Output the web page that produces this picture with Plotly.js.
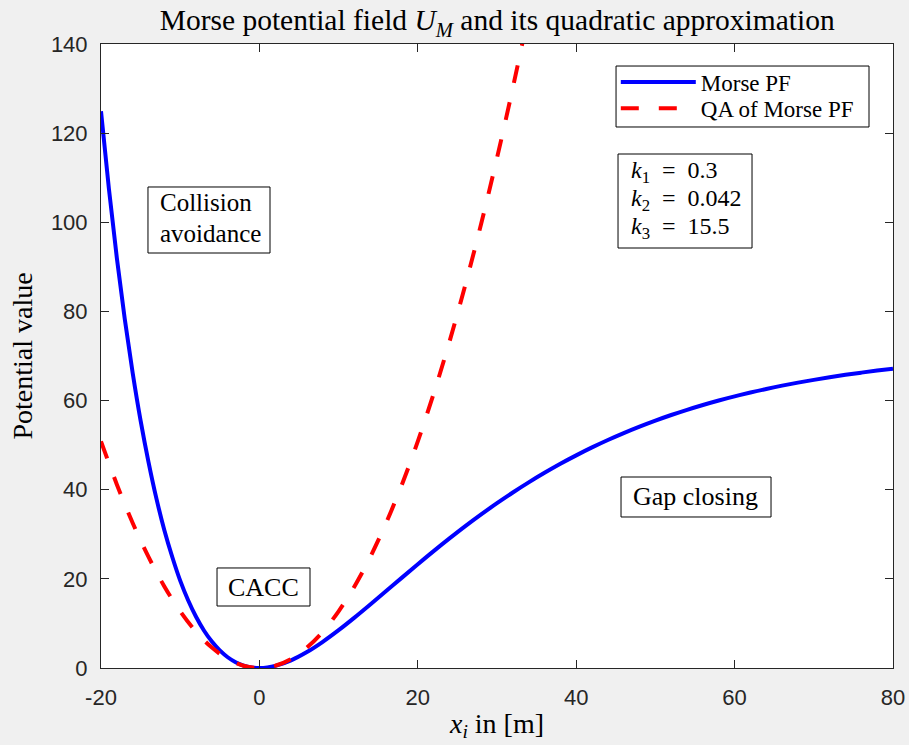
<!DOCTYPE html>
<html>
<head>
<meta charset="utf-8">
<script src="https://cdn.plot.ly/plotly-3.0.1.min.js"></script>
<style>html,body{margin:0;padding:0;background:#f0f0f0;}#chart{width:909px;height:745px;}</style>
</head>
<body>
<div id="chart"></div>
<script>
// Morse PF values
const morseX = [-20,-19,-18,-17,-16,-15,-14,-13,-12,-11,-10,-9,-8,-7,-6,-5,-4,-3,-2,-1,0,1,2,4,6,8,10,12,14,16,18,20,22,24,26,28,30,32,34,36,38,40,42,44,46,48,50,52,54,56,58,60,62,64,66,68,70,72,74,76,78,80];
const morseY = [124.9,107.5,92.0,78.3,66.2,55.5,46.2,38.0,30.9,24.9,19.6,15.2,11.5,8.42,5.92,3.94,2.41,1.30,0.55,0.13,0,0.12,0.47,1.72,3.57,5.87,8.48,11.30,14.25,17.26,20.28,23.28,26.22,29.07,31.83,34.46,36.98,39.38,41.65,43.79,45.82,47.71,49.49,51.15,52.70,54.15,55.50,56.76,57.93,59.01,60.02,60.94,61.80,62.61,63.35,64.03,64.65,65.24,65.78,66.27,66.73,67.16];
// Quadratic approximation values
const qaX = [-20,-18,-16,-14,-12,-10,-8,-6,-4,-2,0,2,4,6,8,10,12,14,16,18,20,22,24,26,28,30,32,34];
const qaY = [50.86,41.19,32.55,24.92,18.31,12.71,8.14,4.58,2.03,0.51,0,0.51,2.03,4.58,8.14,12.71,18.31,24.92,32.55,41.19,50.86,61.54,73.23,85.95,99.68,114.43,130.19,146.97];
const xTicks = [-20,0,20,40,60,80];
const xTickText = ['-20','0','20','40','60','80'];
const yTicks = [0,20,40,60,80,100,120,140];
const yTickText = ['0','20','40','60','80','100','120','140'];
const seriesNames = ['Morse PF','QA of Morse PF'];
const collisionLines = ['Collision','avoidance'];
const caccLabel = 'CACC';
const gapLabel = 'Gap closing';
const paramLines = ['<i>k</i><sub>1</sub>\u2002=\u20020.3','<i>k</i><sub>2</sub>\u2002=\u20020.042','<i>k</i><sub>3</sub>\u2002=\u200215.5'];

const serif = 'Liberation Serif, Times New Roman, serif';
const sans = 'Liberation Sans, Arial, sans-serif';
const axisCol = '#262626';

const traces = [
  {x: morseX, y: morseY, name: seriesNames[0], type: 'scatter', mode: 'lines', legend: 'legend',
   line: {color: '#0000ff', width: 4, shape: 'spline'}},
  {x: qaX, y: qaY, name: seriesNames[1], type: 'scatter', mode: 'lines', legend: 'legend2',
   line: {color: '#ff0000', width: 4, dash: '18px,20px', shape: 'spline'}}
];

function label(x, y, text, size, xanchor) {
  return {x: x, y: y, xref: 'x', yref: 'y', text: text, showarrow: false,
    font: {family: serif, size: size, color: '#000'}, align: 'left',
    borderpad: 0, borderwidth: 0, xanchor: xanchor, yanchor: 'middle'};
}
function rect(x0, x1, y0, y1) {
  return {type: 'rect', xref: 'x', yref: 'y', x0: x0, x1: x1, y0: y0, y1: y1,
    line: {color: '#000', width: 1}, fillcolor: '#fff', layer: 'above'};
}
function legendRow(yc) {
  return {x: 0.65, y: yc, xanchor: 'left', yanchor: 'middle',
    bgcolor: 'rgba(0,0,0,0)', borderwidth: 0,
    font: {family: serif, size: 23, color: '#000'}, itemwidth: 75};
}

const layout = {
  width: 909, height: 745,
  paper_bgcolor: '#f0f0f0', plot_bgcolor: '#ffffff',
  margin: {l: 101, r: 16, t: 44, b: 77, pad: 0},
  title: {text: 'Morse potential field <i>U</i><sub><i>M</i></sub> and its quadratic approximation',
    font: {family: serif, size: 29.5, color: '#000'}, x: 0.547, xanchor: 'center', y: 0.973, yanchor: 'middle'},
  xaxis: {range: [-20, 80], tickvals: xTicks, ticktext: xTickText,
    ticks: 'inside', ticklen: 8, tickcolor: axisCol, tickwidth: 1,
    showline: true, linecolor: axisCol, linewidth: 1, mirror: 'ticks',
    showgrid: false, zeroline: false, ticklabelstandoff: 10,
    tickfont: {family: sans, size: 22, color: axisCol},
    title: {text: '<i>x</i><sub><i>i</i></sub> in [m]', font: {family: serif, size: 28, color: '#000'}, standoff: 3}},
  yaxis: {range: [0, 140], tickvals: yTicks, ticktext: yTickText,
    ticks: 'inside', ticklen: 8, tickcolor: axisCol, tickwidth: 1,
    showline: true, linecolor: axisCol, linewidth: 1, mirror: 'ticks',
    showgrid: false, zeroline: false, ticklabelstandoff: 8,
    tickfont: {family: sans, size: 22, color: axisCol},
    title: {text: 'Potential value', font: {family: serif, size: 28, color: '#000'}, standoff: 10}},
  showlegend: true,
  legend: legendRow(0.939),
  legend2: legendRow(0.897),
  shapes: [
    {type: 'rect', xref: 'paper', yref: 'paper', x0: 0.6503, x1: 0.9697, y0: 0.867, y1: 0.9647,
     line: {color: '#000', width: 1}, fillcolor: '#fff', layer: 'above'},
    rect(-14.07, 1.34, 93.11, 107.92),
    rect(-5.35, 6.39, 13.91, 22.44),
    rect(45.66, 64.60, 33.88, 42.85),
    rect(45.28, 62.20, 94.23, 115.32)
  ],
  annotations: [
    label(-12.55, 104.4, collisionLines[0], 25, 'left'),
    label(-12.55, 97.4, collisionLines[1], 25, 'left'),
    label(0.52, 18.17, caccLabel, 26, 'center'),
    label(55.1, 38.4, gapLabel, 26, 'center'),
    label(46.92, 111.3, paramLines[0], 24, 'left'),
    label(46.92, 105.0, paramLines[1], 24, 'left'),
    label(46.92, 98.7, paramLines[2], 24, 'left')
  ]
};

Plotly.newPlot('chart', traces, layout, {displayModeBar: false, responsive: false});
</script>
</body>
</html>
